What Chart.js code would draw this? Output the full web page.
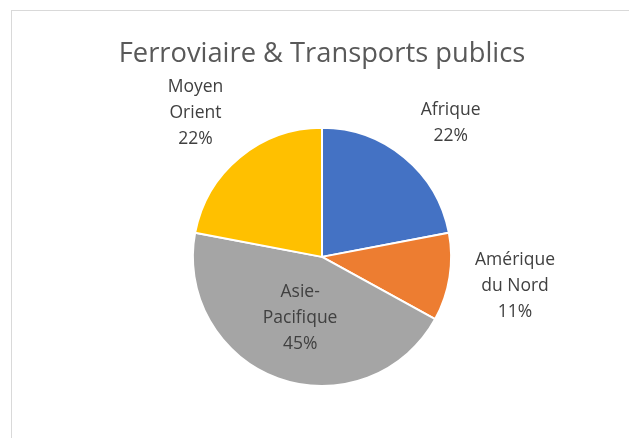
<!DOCTYPE html>
<html>
<head>
<meta charset="utf-8">
<script src="https://cdn.jsdelivr.net/npm/chart.js@4/dist/chart.umd.min.js"></script>
<style>
    body { margin: 0; background: #fff; }
    #cadre { position: absolute; left: 11px; top: 10px; width: 700px; height: 500px; border: 1px solid #d9d9d9; }
    #zone { position: absolute; left: 0; top: 0; width: 629px; height: 438px; }
</style>
</head>
<body>
<div id="cadre"></div>
<div id="zone"><canvas id="myChart"></canvas></div>
<script>
const titre = 'Ferroviaire & Transports publics'
const regions = [['Afrique'], ['Amérique', 'du Nord'], ['Asie-', 'Pacifique'], ['Moyen', 'Orient']]
const parts = [22, 11, 45, 22]
const couleurs = ['#4472C4', '#ED7D31', '#A5A5A5', '#FFC000']

const police = '"Open Sans", sans-serif'

// étiquettes façon Excel : nom + pourcentage, dedans pour la grosse part, dehors pour les autres
const etiquettes = {
    id: 'etiquettes',
    afterDatasetsDraw(chart) {
        const ctx = chart.ctx
        const arcs = chart.getDatasetMeta(0).data
        const total = parts.reduce((a, b) => a + b, 0)
        const h = 26
        ctx.save()
        ctx.fillStyle = '#404040'
        ctx.font = '17.5px ' + police
        ctx.textAlign = 'center'
        ctx.textBaseline = 'middle'
        arcs.forEach((arc, i) => {
            const p = arc.getProps(['x', 'y', 'startAngle', 'endAngle', 'outerRadius'], true)
            const mid = (p.startAngle + p.endAngle) / 2
            const lignes = regions[i].concat([Math.round(parts[i] / total * 100) + '%'])
            const w = Math.max(...lignes.map(l => ctx.measureText(l).width))
            const hauteur = lignes.length * h
            const cos = Math.cos(mid), sin = Math.sin(mid)
            let x, y
            if (parts[i] / total > 0.4) {
                x = p.x + cos * p.outerRadius * 0.5
                y = p.y + sin * p.outerRadius * 0.5
            } else {
                // la boîte de texte est posée juste à l'extérieur du bord
                x = p.x + cos * p.outerRadius * 1.2 + Math.sign(cos) * w / 2
                y = p.y + sin * (p.outerRadius * 1.14 + hauteur / 2)
            }
            lignes.forEach((l, k) => {
                ctx.fillText(l, x, y + (k - (lignes.length - 1) / 2) * h)
            })
        })
        ctx.restore()
    }
}

const ctx = document.getElementById('myChart')

new Chart(ctx, {
    type: 'pie',
    data: {
        labels: regions.map(r => r.join(' ')),
        datasets: [{
            data: parts,
            backgroundColor: couleurs,
            borderColor: '#ffffff',
            borderWidth: 2,
        }],
    },
    options: {
        responsive: true,
        maintainAspectRatio: false,
        animation: false,
        layout: {
            padding: { left: 15, right: 0, top: 0, bottom: 51 }
        },
        plugins: {
            legend: { display: false },
            tooltip: { enabled: false },
            title: {
                display: true,
                text: titre,
                color: '#595959',
                font: { family: police, size: 27.3, weight: 'normal' },
                padding: { top: 38, bottom: 56 },
            },
        },
    },
    plugins: [etiquettes],
})
</script>
</body>
</html>
